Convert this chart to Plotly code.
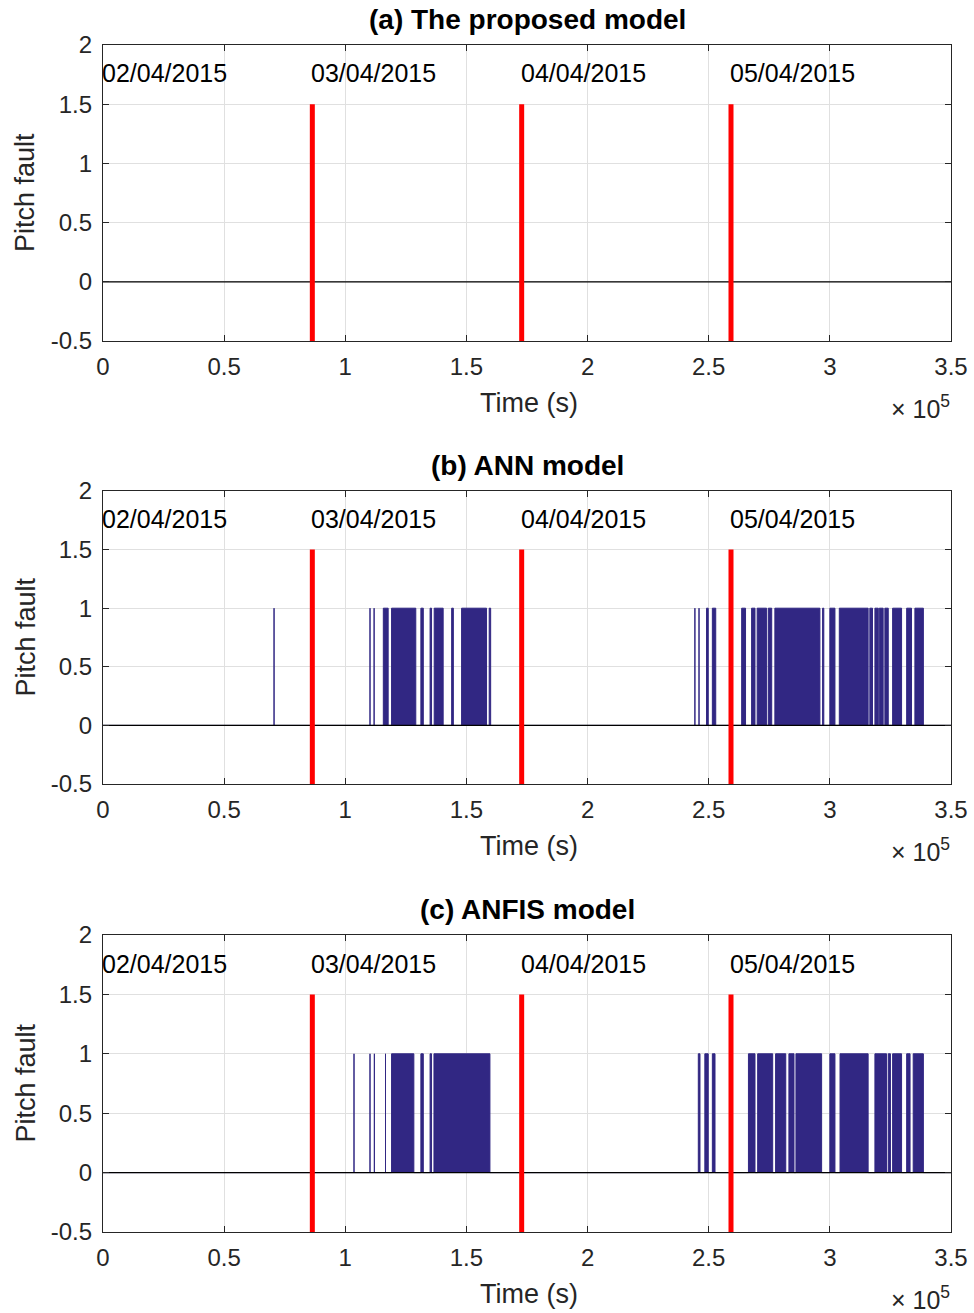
import plotly.graph_objects as go

# ---- data (seconds) ----
fault_times = [86400, 172800, 259200]          # red markers
date_label_x = [0, 86400, 172800, 259200]
date_labels = ["02/04/2015", "03/04/2015", "04/04/2015", "05/04/2015"]

ann_start = [70600, 110200, 111900, 115700, 119100, 131200, 135000, 136700, 143900, 148000, 159400,
             244300, 246000, 249100, 251500, 263600, 267700, 270000, 274600, 277300, 297000, 300000,
             303900, 316500, 318600, 320400, 322700, 325900, 331700, 335100]
ann_end = [70600, 110200, 111900, 117700, 129100, 132200, 135600, 140400, 144600, 158300, 160000,
           244300, 246000, 249800, 252900, 265200, 269100, 273900, 276000, 295900, 297500, 302100,
           315800, 317600, 320000, 322000, 324100, 329600, 333700, 338600]

anfis_start = [103600, 110200, 112000, 116600, 119100, 131200, 135000, 136600,
               245700, 248400, 251500, 266400, 270200, 277600, 283100, 286000, 300000, 304200,
               318600, 324100, 325900, 331700, 334400]
anfis_end = [103600, 110200, 112000, 116600, 128300, 132200, 135600, 159700,
             246400, 249800, 252600, 269100, 276400, 281800, 285200, 296600, 302100, 315800,
             323400, 325000, 329600, 333100, 338600]

titles = ["(a) The proposed model", "(b) ANN model", "(c) ANFIS model"]
x_ticks = [0, 50000, 100000, 150000, 200000, 250000, 300000, 350000]
x_ticktext = ["0", "0.5", "1", "1.5", "2", "2.5", "3", "3.5"]
y_ticks = [-0.5, 0, 0.5, 1, 1.5, 2]
y_ticktext = ["-0.5", "0", "0.5", "1", "1.5", "2"]

FONT = "Liberation Sans, Arial, Helvetica, sans-serif"
TXT = "#262626"
BLUE = "#312783"

W, H = 974, 1313
x0px, x1px = 103, 951
panels_px = [(45, 341), (491, 784), (935, 1232)]


def pulse_xy(starts, ends):
    xs, ys = [0], [0]
    for s, e in zip(starts, ends):
        xs += [s, s, e, e]
        ys += [0, 1, 1, 0]
    xs.append(350000)
    ys.append(0)
    return xs, ys


fig = go.Figure()
layout = dict(width=W, height=H, margin=dict(l=0, r=0, t=0, b=0, autoexpand=False),
              paper_bgcolor="white", plot_bgcolor="white", showlegend=False,
              template="none",
              font=dict(family=FONT, color=TXT))
annotations = []

series = [None, (ann_start, ann_end), (anfis_start, anfis_end)]

for i, (top, bot) in enumerate(panels_px):
    k = "" if i == 0 else str(i + 1)
    xa, ya = "x" + k, "y" + k
    # blue pulses
    if series[i] is not None:
        px, py = pulse_xy(*series[i])
        fig.add_trace(go.Scatter(x=px, y=py, mode="lines", xaxis=xa, yaxis=ya,
                                 line=dict(color=BLUE, width=1), fill="tozeroy",
                                 fillcolor=BLUE, hoverinfo="skip"))
    # zero line
    fig.add_trace(go.Scatter(x=[0, 350000], y=[0, 0], mode="lines", xaxis=xa, yaxis=ya,
                             line=dict(color="black", width=1.3), hoverinfo="skip"))
    # red fault markers
    rx, ry = [], []
    for t in fault_times:
        rx += [t, t, None]
        ry += [-0.5, 1.5, None]
    fig.add_trace(go.Scatter(x=rx, y=ry, mode="lines", xaxis=xa, yaxis=ya,
                             line=dict(color="#FF0000", width=5), hoverinfo="skip"))

    common = dict(showline=True, mirror="ticks", linecolor=TXT, linewidth=1.2,
                  showgrid=True, gridcolor="#E0E0E0", gridwidth=1, zeroline=False,
                  ticks="inside", ticklen=6, tickcolor=TXT, automargin=False,
                  tickfont=dict(family=FONT, size=24, color=TXT))
    layout["xaxis" + k] = dict(common, domain=[x0px / W, x1px / W], range=[0, 350000],
                               tickvals=x_ticks, ticktext=x_ticktext, anchor=ya,
                               ticklabelstandoff=4)
    layout["yaxis" + k] = dict(common, domain=[1 - bot / H, 1 - top / H], range=[-0.5, 2],
                               tickvals=y_ticks, ticktext=y_ticktext, anchor=xa,
                               ticklabelstandoff=5)
    # axis titles
    annotations.append(dict(text="Time (s)", xref="paper", yref="paper",
                            x=(529) / W, y=1 - (bot + 62) / H, showarrow=False,
                            xanchor="center", yanchor="middle",
                            font=dict(family=FONT, size=27, color=TXT)))
    annotations.append(dict(text="Pitch fault", xref="paper", yref="paper",
                            x=25 / W, y=1 - ((top + bot) / 2) / H, showarrow=False,
                            xanchor="center", yanchor="middle", textangle=-90,
                            font=dict(family=FONT, size=27, color=TXT)))
    # title
    annotations.append(dict(text="<b>" + titles[i] + "</b>", xref="paper", yref="paper",
                            x=(x0px + x1px) / 2 / W, y=1 - (top - 25) / H, showarrow=False,
                            xanchor="center", yanchor="middle",
                            font=dict(family=FONT, size=28, color="black")))
    # date labels
    for dx, dl in zip(date_label_x, date_labels):
        annotations.append(dict(text=dl, x=dx, y=1.76, xref=xa, yref=ya, showarrow=False,
                                xanchor="left", yanchor="middle", xshift=-3,
                                font=dict(family=FONT, size=25, color="black")))
    # x10^5
    annotations.append(dict(text="× 10<sup>5</sup>", xref="paper", yref="paper",
                            x=952 / W, y=1 - (bot + 66) / H, showarrow=False,
                            xanchor="right", yanchor="middle",
                            font=dict(family=FONT, size=25, color=TXT)))

layout["annotations"] = annotations
fig.update_layout(**layout)
fig.write_html("out.html",
               post_script="document.body.style.margin='0';document.body.style.padding='0';"
                           "document.documentElement.style.overflow='hidden';")
